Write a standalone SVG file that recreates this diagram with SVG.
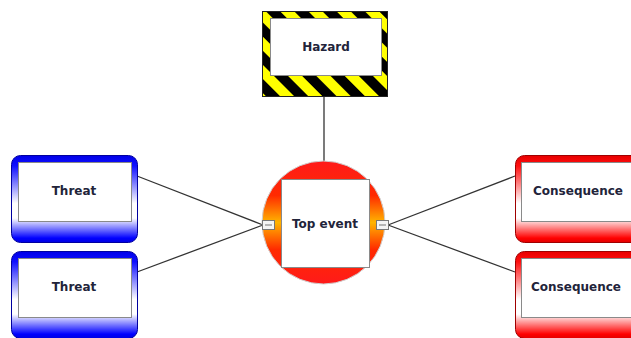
<svg xmlns="http://www.w3.org/2000/svg" width="631" height="338" viewBox="0 0 631 338">
<defs>
<linearGradient id="blueFrame" x1="0" y1="0" x2="0" y2="1">
<stop offset="0" stop-color="#0000e8"/>
<stop offset="0.12" stop-color="#1010ff"/>
<stop offset="0.55" stop-color="#ffffff"/>
<stop offset="0.72" stop-color="#ffffff"/>
<stop offset="0.95" stop-color="#0000ff"/>
<stop offset="1" stop-color="#0000e0"/>
</linearGradient>
<linearGradient id="redFrame" x1="0" y1="0" x2="0" y2="1">
<stop offset="0" stop-color="#e80000"/>
<stop offset="0.12" stop-color="#ff1010"/>
<stop offset="0.55" stop-color="#ffffff"/>
<stop offset="0.72" stop-color="#ffffff"/>
<stop offset="0.95" stop-color="#ff0000"/>
<stop offset="1" stop-color="#e00000"/>
</linearGradient>
<linearGradient id="circleFill" x1="0" y1="0" x2="0" y2="1">
<stop offset="0" stop-color="#ff1a1a"/>
<stop offset="0.28" stop-color="#ff2a00"/>
<stop offset="0.5" stop-color="#ffb400"/>
<stop offset="0.72" stop-color="#ff2a00"/>
<stop offset="1" stop-color="#ff1a1a"/>
</linearGradient>
<pattern id="stripes" width="20" height="20" patternUnits="userSpaceOnUse" patternTransform="rotate(-45)">
<rect width="20" height="20" fill="#ffff00"/>
<rect width="10" height="20" fill="#000000"/>
</pattern>
</defs>
<style>
.lbl{font-family:"DejaVu Sans",Verdana,sans-serif;font-weight:bold;font-size:12px;fill:#22243a;text-anchor:middle;dominant-baseline:central}
.inner{fill:#ffffff;stroke:#8a8a8a;stroke-width:1}
.edge{stroke:#333333;stroke-width:1.3;fill:none}
.port{fill:#f4f4f4;stroke:#777777;stroke-width:1}
</style>
<g id="connectors">
<line class="edge" x1="324" y1="97" x2="324" y2="161"/>
<line class="edge" x1="137" y1="176" x2="263" y2="225"/>
<line class="edge" x1="137" y1="272" x2="263" y2="225"/>
<line class="edge" x1="388" y1="225" x2="515" y2="176"/>
<line class="edge" x1="388" y1="225" x2="515" y2="272"/>
</g>
<g id="hazard">
<rect x="262.5" y="11.5" width="125" height="85" fill="url(#stripes)" stroke="#222222" stroke-width="1"/>
<rect class="inner" x="270.5" y="18.5" width="111" height="57"/>
<text class="lbl" x="326" y="47">Hazard</text>
</g>
<g id="top-event">
<circle cx="323.5" cy="222.5" r="61.5" fill="url(#circleFill)" stroke="#d0d0d0" stroke-width="1"/>
<rect class="inner" x="281.5" y="179.5" width="88" height="88"/>
<text class="lbl" x="325" y="224">Top event</text>
<rect class="port" x="262.5" y="220.5" width="12" height="9"/>
<line x1="265" y1="225" x2="272" y2="225" stroke="#777" stroke-width="1"/>
<rect class="port" x="376.5" y="220.5" width="12" height="9"/>
<line x1="379" y1="225" x2="386" y2="225" stroke="#777" stroke-width="1"/>
</g>
<g id="threat-1">
<rect x="11.5" y="155.5" width="126" height="87" rx="9" fill="url(#blueFrame)" stroke="#0000a0" stroke-width="1"/>
<rect class="inner" x="18.5" y="162.5" width="113" height="59"/>
<text class="lbl" x="74" y="191">Threat</text>
</g>
<g id="threat-2">
<rect x="11.5" y="251.5" width="126" height="87" rx="9" fill="url(#blueFrame)" stroke="#0000a0" stroke-width="1"/>
<rect class="inner" x="18.5" y="258.5" width="113" height="59"/>
<text class="lbl" x="74" y="287">Threat</text>
</g>
<g id="consequence-1">
<rect x="515.5" y="155.5" width="126" height="87" rx="9" fill="url(#redFrame)" stroke="#a00000" stroke-width="1"/>
<rect class="inner" x="521.5" y="162.5" width="113" height="59"/>
<text class="lbl" x="578" y="191">Consequence</text>
</g>
<g id="consequence-2">
<rect x="515.5" y="251.5" width="126" height="87" rx="9" fill="url(#redFrame)" stroke="#a00000" stroke-width="1"/>
<rect class="inner" x="521.5" y="258.5" width="113" height="59"/>
<text class="lbl" x="576" y="287">Consequence</text>
</g>
</svg>
